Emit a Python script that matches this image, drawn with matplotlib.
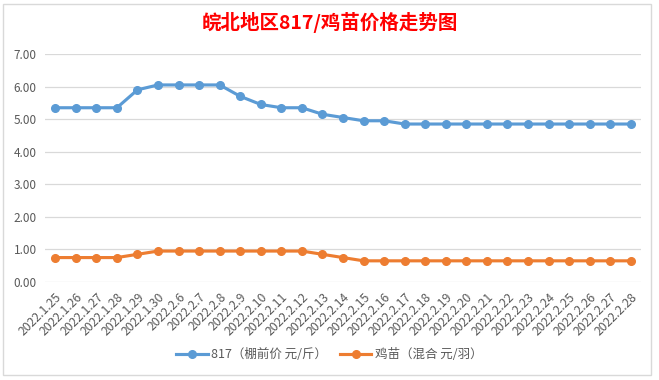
import matplotlib
matplotlib.use("Agg")
import matplotlib.pyplot as plt
from matplotlib.patches import Rectangle

plt.rcParams["font.family"] = ["Noto Sans CJK SC", "DejaVu Sans"]

dates = ["2022.1.25", "2022.1.26", "2022.1.27", "2022.1.28", "2022.1.29", "2022.1.30",
         "2022.2.6", "2022.2.7", "2022.2.8", "2022.2.9", "2022.2.10", "2022.2.11",
         "2022.2.12", "2022.2.13", "2022.2.14", "2022.2.15", "2022.2.16", "2022.2.17",
         "2022.2.18", "2022.2.19", "2022.2.20", "2022.2.21", "2022.2.22", "2022.2.23",
         "2022.2.24", "2022.2.25", "2022.2.26", "2022.2.27", "2022.2.28"]
price_817 = [5.35, 5.35, 5.35, 5.35, 5.9, 6.05, 6.05, 6.05, 6.05, 5.7, 5.45, 5.35,
             5.35, 5.15, 5.05, 4.95, 4.95, 4.85, 4.85, 4.85, 4.85, 4.85, 4.85, 4.85,
             4.85, 4.85, 4.85, 4.85, 4.85]
price_chick = [0.75, 0.75, 0.75, 0.75, 0.85, 0.95, 0.95, 0.95, 0.95, 0.95, 0.95, 0.95,
               0.95, 0.85, 0.75, 0.65, 0.65, 0.65, 0.65, 0.65, 0.65, 0.65, 0.65, 0.65,
               0.65, 0.65, 0.65, 0.65, 0.65]
yticks = [0, 1, 2, 3, 4, 5, 6, 7]

BLUE = "#5B9BD5"
ORANGE = "#ED7D31"
GRID = "#D9D9D9"
TXT = "#595959"

fig = plt.figure(figsize=(6.59, 3.80), dpi=100)
fig.patches.append(Rectangle((3 / 659, 5 / 380), 648 / 659, 371 / 380, transform=fig.transFigure,
                             fill=False, edgecolor=GRID, linewidth=1.0))

ax = fig.add_axes([45 / 659, 1 - 282 / 380, 596 / 659, 228 / 380])
x = list(range(len(dates)))
ax.plot(x, price_817, color=BLUE, linewidth=2.25, marker="o", markersize=5.5,
        label="817（棚前价 元/斤）", zorder=3)
ax.plot(x, price_chick, color=ORANGE, linewidth=2.25, marker="o", markersize=5.5,
        label="鸡苗（混合 元/羽）", zorder=3)

ax.set_xlim(-0.5, len(dates) - 0.5)
ax.set_ylim(0, 7)
ax.set_yticks(yticks)
ax.set_yticklabels([f"{v:.2f}" for v in yticks], fontsize=8.5, color=TXT)
ax.set_xticks(x)
ax.set_xticklabels(dates, rotation=45, ha="right", rotation_mode="anchor", fontsize=8.8, color=TXT)
ax.tick_params(length=0, pad=6)
ax.grid(axis="y", color=GRID, linewidth=0.9)
ax.set_axisbelow(True)
for s in ax.spines.values():
    s.set_visible(False)

fig.text(0.5, 1 - 22 / 380, "皖北地区817/鸡苗价格走势图", ha="center", va="center",
         fontsize=14, fontweight="bold", color="red")
fig.legend(loc="center", bbox_to_anchor=(0.5, 1 - 355 / 380), ncol=2, frameon=False,
           fontsize=9, labelcolor=TXT, handlelength=2.5, columnspacing=1.0, handletextpad=0.3)

fig.savefig("out.png", dpi=100, facecolor="white")
